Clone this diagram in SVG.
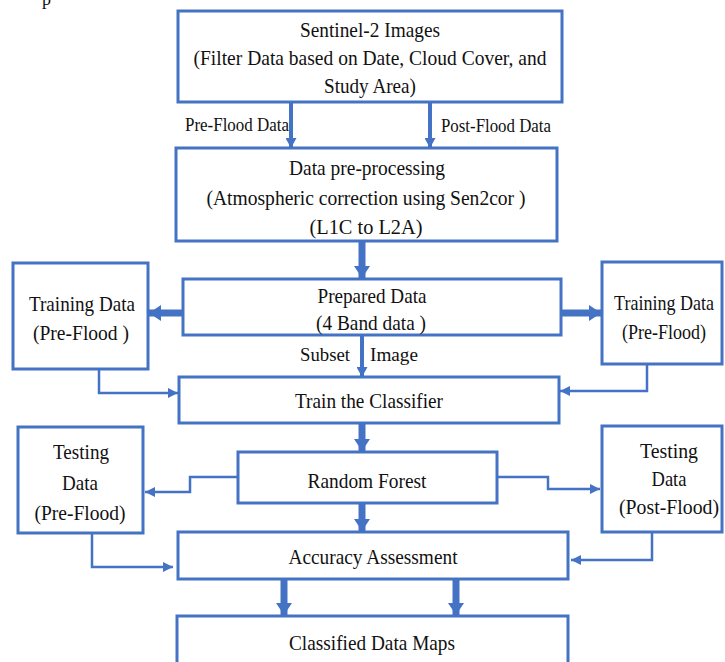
<svg xmlns="http://www.w3.org/2000/svg" width="725" height="662" viewBox="0 0 725 662">
<style>
.box{fill:#fff;stroke:#4472C4;stroke-width:3}
.t{font-family:"Liberation Serif","Times New Roman",serif;font-size:21px;fill:#111;text-anchor:middle}
.lbl{font-family:"Liberation Serif","Times New Roman",serif;font-size:18px;fill:#111}
.c{fill:none;stroke:#4472C4;stroke-width:2.5}
.m{fill:none;stroke:#4472C4;stroke-width:4}
.k{fill:none;stroke:#4472C4;stroke-width:7}
</style>
<defs>
<marker id="ah" markerUnits="userSpaceOnUse" markerWidth="10" markerHeight="10" refX="10" refY="5" orient="auto"><path d="M0,0 L10,5 L0,10 z" fill="#4472C4"/></marker>
<marker id="am" markerUnits="userSpaceOnUse" markerWidth="10" markerHeight="11" refX="10" refY="5.5" orient="auto"><path d="M0,0 L10,5.5 L0,11 z" fill="#4472C4"/></marker>
<marker id="ak" markerUnits="userSpaceOnUse" markerWidth="12" markerHeight="16" refX="12" refY="8" orient="auto"><path d="M0,0 L12,8 L0,16 z" fill="#4472C4"/></marker>
</defs>
<rect width="725" height="662" fill="#fff"/>
<text class="lbl" x="42" y="5" font-size="21">p</text>

<g id="connectors">
<line class="m" x1="291" y1="103" x2="291" y2="148" marker-end="url(#am)"/>
<line class="m" x1="430" y1="103" x2="430" y2="148" marker-end="url(#am)"/>
<line class="k" x1="362" y1="242" x2="362" y2="278" marker-end="url(#ak)"/>
<line class="k" x1="182" y1="313" x2="149" y2="313" marker-end="url(#ak)"/>
<line class="k" x1="562" y1="313" x2="601" y2="313" marker-end="url(#ak)"/>
<line class="m" x1="362" y1="336" x2="362" y2="377" marker-end="url(#am)"/>
<polyline class="c" points="99,369 99,393 178,393" marker-end="url(#ah)"/>
<polyline class="c" points="647,364 647,391 560,391" marker-end="url(#ah)"/>
<line class="k" x1="362" y1="424" x2="362" y2="451" marker-end="url(#ak)"/>
<polyline class="c" points="238,477 190,477 190,492 145,492" marker-end="url(#ah)"/>
<polyline class="c" points="497,477 548,477 548,489 600,489" marker-end="url(#ah)"/>
<line class="k" x1="362" y1="504" x2="362" y2="531" marker-end="url(#ak)"/>
<polyline class="c" points="92,533 92,567 173,567" marker-end="url(#ah)"/>
<polyline class="c" points="652,532 652,560 571,560" marker-end="url(#ah)"/>
<line class="k" x1="284" y1="580" x2="284" y2="615" marker-end="url(#ak)"/>
<line class="k" x1="456" y1="580" x2="456" y2="615" marker-end="url(#ak)"/>
<text class="lbl" x="185" y="131" textLength="104" lengthAdjust="spacingAndGlyphs">Pre-Flood Data</text>
<text class="lbl" x="441" y="132" textLength="110" lengthAdjust="spacingAndGlyphs">Post-Flood Data</text>
<text class="lbl" x="300" y="361" textLength="50" lengthAdjust="spacingAndGlyphs">Subset</text>
<text class="lbl" x="370" y="361" textLength="48" lengthAdjust="spacingAndGlyphs">Image</text>
</g>

<g id="sentinel">
<rect class="box" x="178" y="11" width="384" height="91"/>
<text class="t" x="370" y="37" textLength="140" lengthAdjust="spacingAndGlyphs">Sentinel-2 Images</text>
<text class="t" x="370" y="65" textLength="353" lengthAdjust="spacingAndGlyphs">(Filter Data based on Date, Cloud Cover, and</text>
<text class="t" x="370" y="93" textLength="92" lengthAdjust="spacingAndGlyphs">Study Area)</text>
</g>
<g id="preprocessing">
<rect class="box" x="176" y="148" width="381" height="93"/>
<text class="t" x="367" y="175" textLength="156" lengthAdjust="spacingAndGlyphs">Data pre-processing</text>
<text class="t" x="366" y="205" textLength="319" lengthAdjust="spacingAndGlyphs">(Atmospheric correction using Sen2cor )</text>
<text class="t" x="366" y="234" textLength="113" lengthAdjust="spacingAndGlyphs">(L1C to L2A)</text>
</g>
<g id="prepared">
<rect class="box" x="183" y="279" width="378" height="56"/>
<text class="t" x="372" y="303" textLength="109" lengthAdjust="spacingAndGlyphs">Prepared Data</text>
<text class="t" x="371" y="330" textLength="110" lengthAdjust="spacingAndGlyphs">(4 Band data )</text>
</g>
<g id="training-left">
<rect class="box" x="13" y="263" width="135" height="106"/>
<text class="t" x="82" y="311" textLength="106" lengthAdjust="spacingAndGlyphs">Training Data</text>
<text class="t" x="81" y="340" textLength="96" lengthAdjust="spacingAndGlyphs">(Pre-Flood )</text>
</g>
<g id="training-right">
<rect class="box" x="602" y="262" width="120" height="102"/>
<text class="t" x="664" y="310" textLength="100" lengthAdjust="spacingAndGlyphs">Training Data</text>
<text class="t" x="664" y="339" textLength="84" lengthAdjust="spacingAndGlyphs">(Pre-Flood)</text>
</g>
<g id="train">
<rect class="box" x="179" y="377" width="380" height="46"/>
<text class="t" x="369" y="408" textLength="148" lengthAdjust="spacingAndGlyphs">Train the Classifier</text>
</g>
<g id="random-forest">
<rect class="box" x="238" y="452" width="259" height="51"/>
<text class="t" x="367" y="488" textLength="119" lengthAdjust="spacingAndGlyphs">Random Forest</text>
</g>
<g id="testing-left">
<rect class="box" x="18" y="427" width="125" height="106"/>
<text class="t" x="81" y="459" textLength="56" lengthAdjust="spacingAndGlyphs">Testing</text>
<text class="t" x="80" y="490" textLength="36" lengthAdjust="spacingAndGlyphs">Data</text>
<text class="t" x="80" y="520" textLength="91" lengthAdjust="spacingAndGlyphs">(Pre-Flood)</text>
</g>
<g id="testing-right">
<rect class="box" x="602" y="426" width="120" height="106"/>
<text class="t" x="669" y="458" textLength="58" lengthAdjust="spacingAndGlyphs">Testing</text>
<text class="t" x="669" y="486" textLength="35" lengthAdjust="spacingAndGlyphs">Data</text>
<text class="t" x="669" y="514" textLength="100" lengthAdjust="spacingAndGlyphs">(Post-Flood)</text>
</g>
<g id="accuracy">
<rect class="box" x="178" y="532" width="390" height="47"/>
<text class="t" x="373" y="564" textLength="169" lengthAdjust="spacingAndGlyphs">Accuracy Assessment</text>
</g>
<g id="classified">
<rect class="box" x="177" y="616" width="391" height="60"/>
<text class="t" x="372" y="650" textLength="166" lengthAdjust="spacingAndGlyphs">Classified Data Maps</text>
</g>
</svg>
